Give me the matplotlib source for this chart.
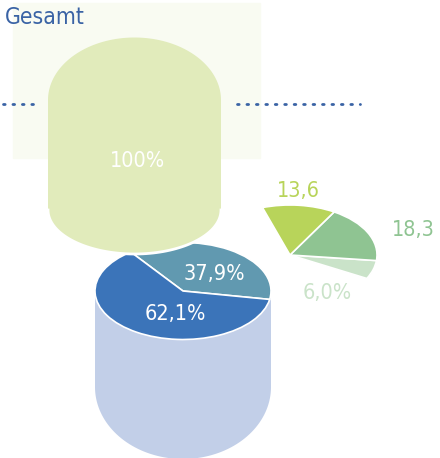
import numpy as np
import matplotlib
matplotlib.use('Agg')
import matplotlib.pyplot as plt
from matplotlib.patches import Polygon, Rectangle
from matplotlib.transforms import Affine2D

# data
title = "Gesamt"
total_label = "100%"
main_values = [37.9, 62.1]
main_colors = ['#6199b0', '#3b74b9']
main_labels = ['37,9%', '62,1%']
sub_values = [6.0, 18.3, 13.6]
sub_colors = ['#cae3c9', '#8fc492', '#b8d45a']
sub_labels = ['6,0%', '18,3', '13,6']

W, H = 440, 458
blue = '#3a63a5'
font = dict(family='DejaVu Sans', fontstretch='condensed')


def Y(y):
    # pixel row (from top) -> data y
    return H - y


def capsule(cx, x_half, y_top, y_side_top, y_side_bot, y_bot, n=80):
    t = np.linspace(0, np.pi, n)
    ry_top = y_side_top - y_top
    ry_bot = y_bot - y_side_bot
    top = np.c_[cx + x_half * np.cos(t), Y(y_side_top) + ry_top * np.sin(t)]
    bot = np.c_[cx - x_half * np.cos(t), Y(y_side_bot) - ry_bot * np.sin(t)]
    return np.vstack([top, bot]), bot


def squashed_pie(ax, values, colors, center, rx, ry, startangle):
    # values in percent of the full circle
    fracs = np.asarray(values) / 100.0
    wedges, _ = ax.pie(fracs, colors=colors, startangle=startangle,
                       center=center, radius=rx, normalize=False,
                       wedgeprops=dict(edgecolor='white', linewidth=1.2))
    cx, cy = center
    tr = Affine2D().translate(-cx, -cy).scale(1, ry / rx).translate(cx, cy)
    for w in wedges:
        w.set_transform(tr + ax.transData)
        w.set_zorder(3)
    return wedges


fig = plt.figure(figsize=(4.4, 4.58), dpi=100)
ax = fig.add_axes([0, 0, 1, 1])

# faint backdrop box
ax.add_patch(Rectangle((13, Y(158)), 247, 155, color='#f9fbf2', zorder=0))

# dotted guide line
ax.plot([3, 37], [Y(104), Y(104)], color=blue, lw=2, ls=(0, (0.6, 2.8)),
        dash_capstyle='round', zorder=1)
ax.plot([237, 360], [Y(104), Y(104)], color=blue, lw=2, ls=(0, (0.6, 2.8)),
        dash_capstyle='round', zorder=1)

# blue cylinder body
body, _ = capsule(183, 88, 291, 291, 387, 459)
ax.add_patch(Polygon(body, closed=True, color='#c2cfe8', lw=0, zorder=2))

# main pie on top of body
squashed_pie(ax, main_values, main_colors, (183, Y(291)), 88, 48.5, -10)

# green capsule (total)
cap, cap_bot = capsule(134.5, 86.5, 37.5, 100, 210, 254)
ax.add_patch(Polygon(cap, closed=True, facecolor='#e1ebbb', lw=0, zorder=4))
ax.plot(cap_bot[:, 0], cap_bot[:, 1], color='white', lw=2, zorder=4)

# breakdown pie
squashed_pie(ax, sub_values, sub_colors, (290, Y(255)), 87, 50, -28)

# texts
ax.text(5, Y(18), title, color=blue, fontsize=16.5, fontweight='medium',
        ha='left', va='center', **font)
ax.text(137, Y(161), total_label, color='white', fontsize=15.5,
        ha='center', va='center', zorder=6, **font)
ax.text(214, Y(273.5), main_labels[0], color='white', fontsize=15.5,
        ha='center', va='center', zorder=6, **font)
ax.text(175, Y(313.5), main_labels[1], color='white', fontsize=15.5,
        ha='center', va='center', zorder=6, **font)
sub_pos = [(327, 293), (413, 229.5), (298.5, 191)]
for lab, c, (px, py) in zip(sub_labels, sub_colors, sub_pos):
    ax.text(px, Y(py), lab, color=c, fontsize=15.5, ha='center',
            va='center', zorder=6, **font)

ax.set_xlim(0, W)
ax.set_ylim(0, H)
ax.set_aspect('auto')
ax.axis('off')

fig.savefig('out.png', dpi=100)
